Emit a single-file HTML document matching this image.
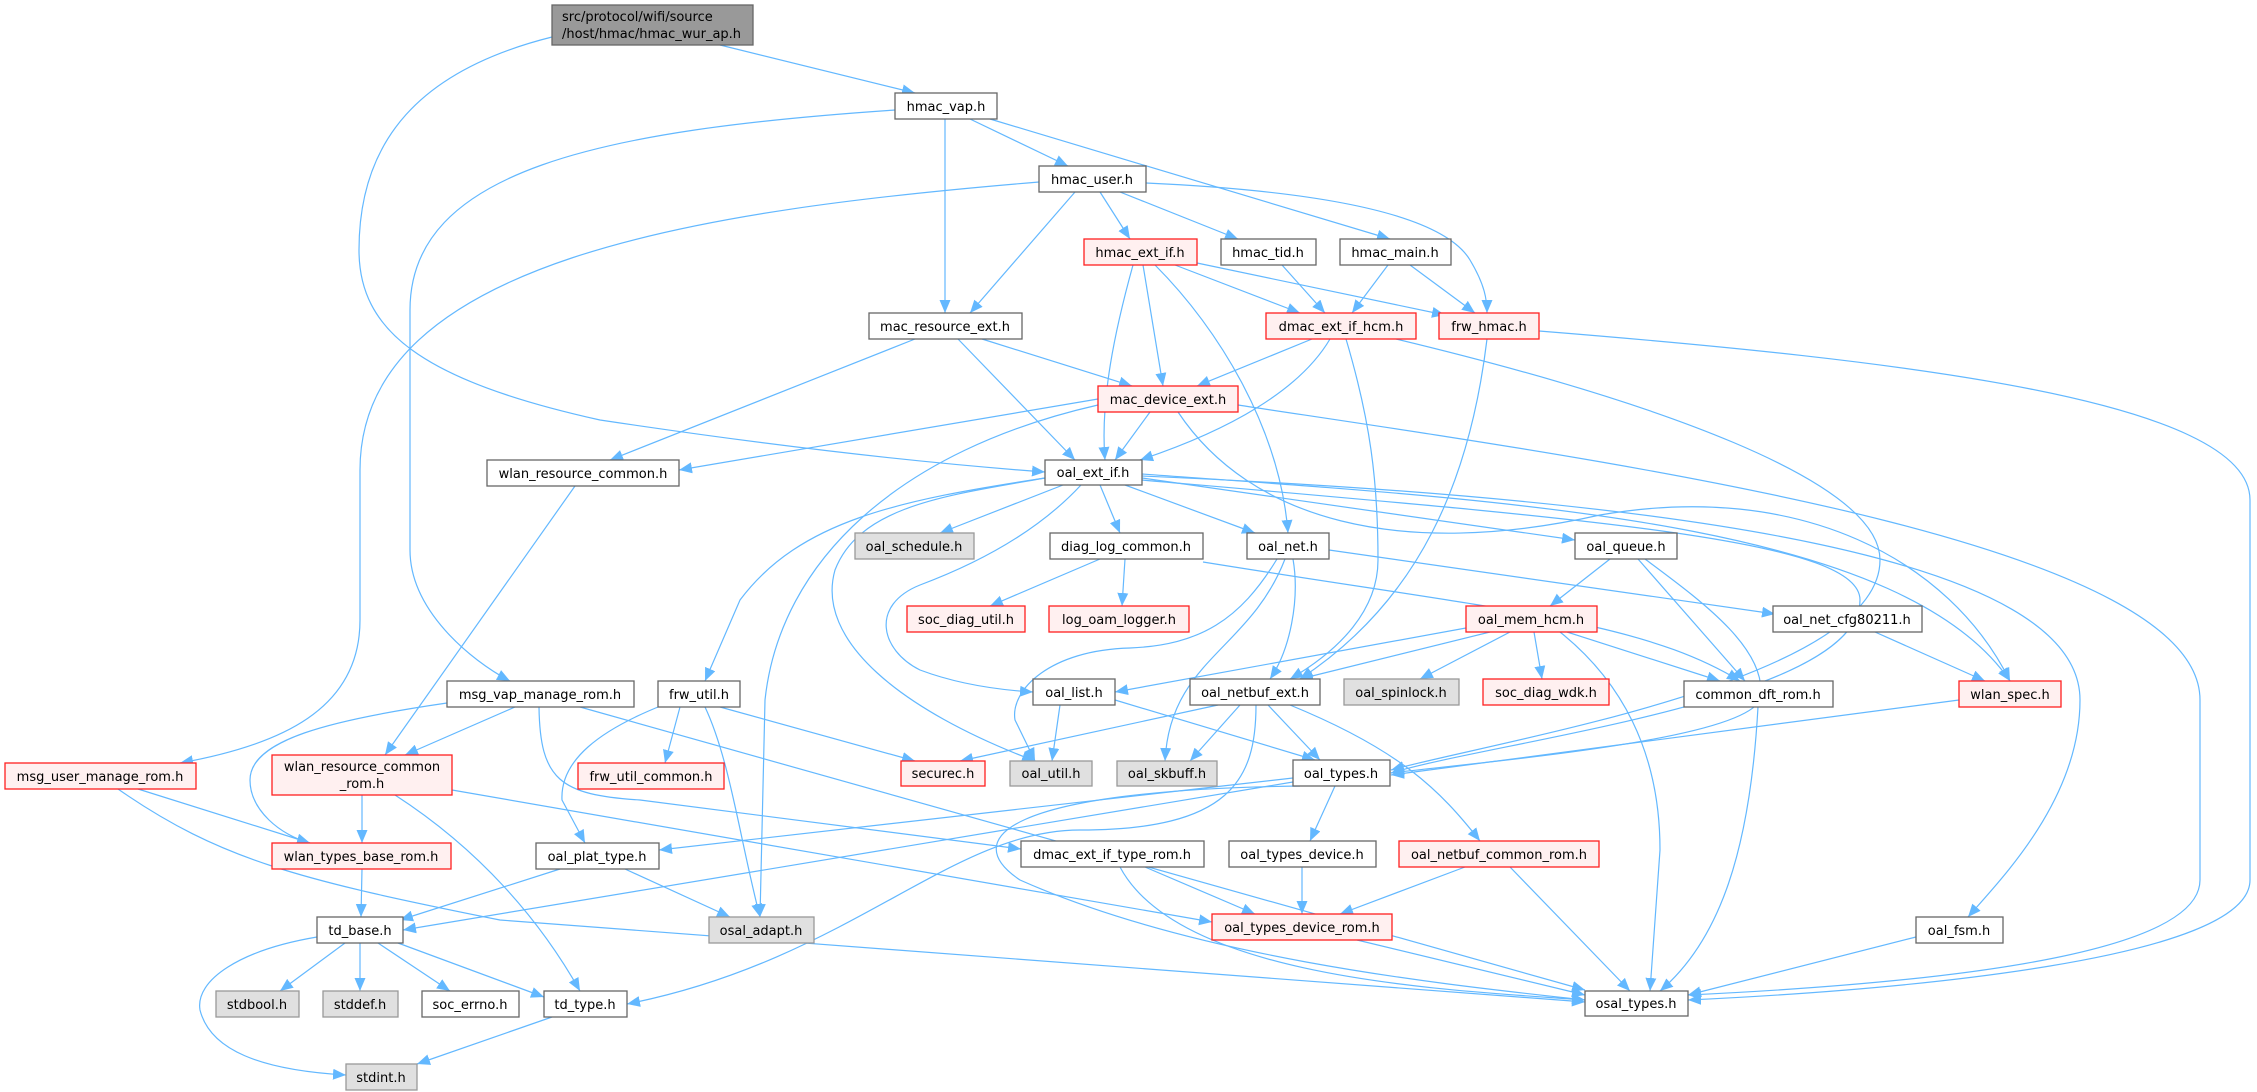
<!DOCTYPE html>
<html><head><meta charset="utf-8"><style>
html,body{margin:0;padding:0;background:#fff;}
svg{display:block;}
text{font-family:"DejaVu Sans","Liberation Sans",sans-serif;font-size:13px;fill:#000;}
.e{fill:none;stroke:#63b8ff;stroke-width:1.2;marker-end:url(#a);}
.n{fill:#fff;stroke:#666;stroke-width:1.3;}
.r{fill:#fff0f0;stroke:#ff2020;stroke-width:1.3;}
.g{fill:#e0e0e0;stroke:#999;stroke-width:1.3;}
</style></head><body>
<svg width="2257" height="1092" viewBox="0 0 2257 1092" xmlns="http://www.w3.org/2000/svg">
<defs><marker id="a" markerUnits="userSpaceOnUse" markerWidth="14" markerHeight="12" refX="13" refY="5.5" orient="auto"><path d="M0,0 L13,5.5 L0,11 z" fill="#63b8ff"/></marker></defs>
<g>
<path class="e" d="M720,45 L915,93"/>
<path class="e" d="M552,37 C420,70 359,140 359,250 C359,330 420,380 600,420 C800,450 950,465 1045,472"/>
<path class="e" d="M895,110 C600,130 410,170 410,310 L410,550 C410,610 470,660 510,681"/>
<path class="e" d="M945,119 L945,313"/>
<path class="e" d="M970,119 L1068,166"/>
<path class="e" d="M990,119 L1390,239"/>
<path class="e" d="M1039,182 C700,210 360,260 360,470 L360,620 C360,710 280,745 180,763"/>
<path class="e" d="M1075,192 L970,313"/>
<path class="e" d="M1100,192 L1130,239"/>
<path class="e" d="M1120,192 L1238,239"/>
<path class="e" d="M1146,183 C1300,190 1440,210 1470,260 C1485,285 1487,300 1487,313"/>
<path class="e" d="M1133,265 C1115,330 1100,400 1105,460"/>
<path class="e" d="M1143,265 L1163,386"/>
<path class="e" d="M1175,265 L1300,313"/>
<path class="e" d="M1197,263 L1445,315"/>
<path class="e" d="M1155,265 C1220,330 1280,430 1288,533"/>
<path class="e" d="M1282,265 L1325,313"/>
<path class="e" d="M1388,265 L1352,313"/>
<path class="e" d="M1410,265 L1475,313"/>
<path class="e" d="M915,339 L610,460"/>
<path class="e" d="M958,339 L1075,460"/>
<path class="e" d="M982,339 L1132,386"/>
<path class="e" d="M1312,339 L1197,386"/>
<path class="e" d="M1330,339 C1300,390 1230,430 1140,460"/>
<path class="e" d="M1346,339 C1370,420 1378,480 1378,560 C1378,610 1340,650 1290,679"/>
<path class="e" d="M1396,339 C1650,400 1880,480 1880,560 C1880,680 1500,740 1391,770"/>
<path class="e" d="M1487,339 C1470,480 1420,600 1300,679"/>
<path class="e" d="M1539,331 C1900,360 2250,400 2250,500 L2250,880 C2250,960 1900,990 1688,1000"/>
<path class="e" d="M1098,399 L679,470"/>
<path class="e" d="M1150,412 L1115,460"/>
<path class="e" d="M1098,405 C900,450 780,560 765,700 L760,917"/>
<path class="e" d="M1178,412 C1250,520 1400,560 1600,515 C1800,480 1950,560 2010,681"/>
<path class="e" d="M1238,405 C1600,460 2200,540 2200,700 L2200,880 C2200,960 1900,985 1688,995"/>
<path class="e" d="M1063,485 L940,533"/>
<path class="e" d="M1100,485 L1120,533"/>
<path class="e" d="M1125,485 L1255,533"/>
<path class="e" d="M1142,478 L1575,540"/>
<path class="e" d="M1045,478 C900,500 800,520 740,600 L705,681"/>
<path class="e" d="M1081,485 C1030,540 960,570 920,585 C870,605 880,650 920,670 C960,685 1000,690 1033,692"/>
<path class="e" d="M1045,478 C950,495 860,505 835,570 C815,640 900,710 1035,761"/>
<path class="e" d="M1142,474 C1500,500 1900,520 2010,681"/>
<path class="e" d="M1142,480 C1600,520 1860,540 1860,600 C1860,700 1500,740 1391,773"/>
<path class="e" d="M1142,476 C1700,500 2080,560 2080,700 C2080,800 2000,880 1968,917"/>
<path class="e" d="M1100,559 L990,606"/>
<path class="e" d="M1125,559 L1122,606"/>
<path class="e" d="M1203,562 C1500,610 1640,620 1740,681"/>
<path class="e" d="M1277,559 C1240,620 1200,645 1130,648 C1050,650 1010,690 1015,720 L1035,761"/>
<path class="e" d="M1285,559 C1250,650 1170,660 1165,761"/>
<path class="e" d="M1293,559 C1300,600 1290,650 1270,679"/>
<path class="e" d="M1329,550 L1775,614"/>
<path class="e" d="M1610,559 L1550,606"/>
<path class="e" d="M1638,559 L1745,681"/>
<path class="e" d="M1645,559 C1700,600 1770,650 1760,700 C1740,740 1500,760 1391,773"/>
<path class="e" d="M1466,628 L1115,692"/>
<path class="e" d="M1490,632 L1300,679"/>
<path class="e" d="M1510,632 L1420,679"/>
<path class="e" d="M1534,632 L1542,679"/>
<path class="e" d="M1567,632 L1720,681"/>
<path class="e" d="M1560,632 C1620,680 1660,750 1660,850 L1650,991"/>
<path class="e" d="M1875,632 L1985,681"/>
<path class="e" d="M1959,700 L1391,775"/>
<path class="e" d="M1758,707 C1750,850 1720,940 1660,991"/>
<path class="e" d="M720,707 L915,761"/>
<path class="e" d="M680,707 L665,763"/>
<path class="e" d="M705,707 C730,760 740,840 760,917"/>
<path class="e" d="M663,705 C600,730 560,760 562,800 L585,843"/>
<path class="e" d="M1060,705 L1052,761"/>
<path class="e" d="M1115,700 L1315,760"/>
<path class="e" d="M1218,705 L960,761"/>
<path class="e" d="M1240,705 L1190,761"/>
<path class="e" d="M1268,705 L1320,760"/>
<path class="e" d="M1290,705 C1400,750 1440,790 1480,841"/>
<path class="e" d="M1256,705 C1256,780 1230,830 1080,830 C950,830 850,960 627,1004"/>
<path class="e" d="M1300,786 C1000,790 960,840 1020,880 C1200,960 1450,985 1585,1000"/>
<path class="e" d="M1293,778 L659,850"/>
<path class="e" d="M1293,782 L403,930"/>
<path class="e" d="M1335,786 L1310,841"/>
<path class="e" d="M1302,867 L1302,914"/>
<path class="e" d="M1465,867 L1340,914"/>
<path class="e" d="M1510,867 L1630,991"/>
<path class="e" d="M1145,867 L1255,914"/>
<path class="e" d="M1120,867 C1180,980 1450,990 1585,1000"/>
<path class="e" d="M1357,940 L1585,995"/>
<path class="e" d="M1916,937 L1688,995"/>
<path class="e" d="M515,707 L405,755"/>
<path class="e" d="M447,703 C330,720 250,740 250,780 C250,810 280,835 310,843"/>
<path class="e" d="M539,707 C540,780 560,795 640,800 L1021,849"/>
<path class="e" d="M580,707 L1585,990"/>
<path class="e" d="M575,486 L385,755"/>
<path class="e" d="M138,789 L310,843"/>
<path class="e" d="M118,789 C220,860 300,880 500,920 L1585,1002"/>
<path class="e" d="M362,795 L362,843"/>
<path class="e" d="M395,795 C480,850 540,920 580,991"/>
<path class="e" d="M452,790 L1212,922"/>
<path class="e" d="M362,869 L361,917"/>
<path class="e" d="M560,869 L400,920"/>
<path class="e" d="M625,869 L730,917"/>
<path class="e" d="M345,943 L280,991"/>
<path class="e" d="M360,943 L360,991"/>
<path class="e" d="M378,943 L450,991"/>
<path class="e" d="M398,943 L544,997"/>
<path class="e" d="M317,937 C240,950 195,980 200,1010 C210,1050 260,1070 346,1075"/>
<path class="e" d="M552,1017 L417,1064"/>
</g>
<g>
<rect x="552" y="5" width="201" height="40" fill="#999" stroke="#666" stroke-width="1.3"/>
<text x="562" y="21">src/protocol/wifi/source</text>
<text x="562" y="38">/host/hmac/hmac_wur_ap.h</text>

<rect class="n" x="895" y="93" width="102" height="26"/><text x="946" y="111" text-anchor="middle">hmac_vap.h</text>
<rect class="n" x="1039" y="166" width="107" height="26"/><text x="1092" y="184" text-anchor="middle">hmac_user.h</text>
<rect class="r" x="1084" y="239" width="113" height="26"/><text x="1140" y="257" text-anchor="middle">hmac_ext_if.h</text>
<rect class="n" x="1221" y="239" width="95" height="26"/><text x="1268" y="257" text-anchor="middle">hmac_tid.h</text>
<rect class="n" x="1340" y="239" width="111" height="26"/><text x="1395" y="257" text-anchor="middle">hmac_main.h</text>
<rect class="n" x="869" y="313" width="153" height="26"/><text x="945" y="331" text-anchor="middle">mac_resource_ext.h</text>
<rect class="r" x="1266" y="313" width="150" height="26"/><text x="1341" y="331" text-anchor="middle">dmac_ext_if_hcm.h</text>
<rect class="r" x="1439" y="313" width="100" height="26"/><text x="1489" y="331" text-anchor="middle">frw_hmac.h</text>
<rect class="r" x="1098" y="386" width="140" height="26"/><text x="1168" y="404" text-anchor="middle">mac_device_ext.h</text>
<rect class="n" x="487" y="460" width="192" height="26"/><text x="583" y="478" text-anchor="middle">wlan_resource_common.h</text>
<rect class="n" x="1045" y="460" width="97" height="25"/><text x="1093" y="477" text-anchor="middle">oal_ext_if.h</text>
<rect class="g" x="855" y="533" width="119" height="26"/><text x="914" y="551" text-anchor="middle">oal_schedule.h</text>
<rect class="n" x="1050" y="533" width="153" height="26"/><text x="1126" y="551" text-anchor="middle">diag_log_common.h</text>
<rect class="n" x="1247" y="533" width="82" height="26"/><text x="1288" y="551" text-anchor="middle">oal_net.h</text>
<rect class="n" x="1575" y="533" width="102" height="26"/><text x="1626" y="551" text-anchor="middle">oal_queue.h</text>
<rect class="r" x="907" y="606" width="118" height="26"/><text x="966" y="624" text-anchor="middle">soc_diag_util.h</text>
<rect class="r" x="1049" y="606" width="140" height="26"/><text x="1119" y="624" text-anchor="middle">log_oam_logger.h</text>
<rect class="r" x="1466" y="606" width="131" height="26"/><text x="1531" y="624" text-anchor="middle">oal_mem_hcm.h</text>
<rect class="n" x="1773" y="606" width="149" height="26"/><text x="1847" y="624" text-anchor="middle">oal_net_cfg80211.h</text>
<rect class="n" x="447" y="681" width="187" height="26"/><text x="540" y="699" text-anchor="middle">msg_vap_manage_rom.h</text>
<rect class="n" x="658" y="681" width="82" height="26"/><text x="699" y="699" text-anchor="middle">frw_util.h</text>
<rect class="n" x="1033" y="679" width="82" height="26"/><text x="1074" y="697" text-anchor="middle">oal_list.h</text>
<rect class="n" x="1190" y="679" width="130" height="26"/><text x="1255" y="697" text-anchor="middle">oal_netbuf_ext.h</text>
<rect class="g" x="1344" y="679" width="115" height="26"/><text x="1401" y="697" text-anchor="middle">oal_spinlock.h</text>
<rect class="r" x="1483" y="679" width="126" height="26"/><text x="1546" y="697" text-anchor="middle">soc_diag_wdk.h</text>
<rect class="n" x="1684" y="681" width="149" height="26"/><text x="1758" y="699" text-anchor="middle">common_dft_rom.h</text>
<rect class="r" x="1959" y="681" width="102" height="26"/><text x="2010" y="699" text-anchor="middle">wlan_spec.h</text>
<rect class="r" x="5" y="763" width="191" height="26"/><text x="100" y="781" text-anchor="middle">msg_user_manage_rom.h</text>
<rect class="r" x="272" y="755" width="180" height="40"/><text x="362" y="771" text-anchor="middle">wlan_resource_common</text><text x="362" y="788" text-anchor="middle">_rom.h</text>
<rect class="r" x="578" y="763" width="146" height="26"/><text x="651" y="781" text-anchor="middle">frw_util_common.h</text>
<rect class="r" x="901" y="761" width="84" height="25"/><text x="943" y="778" text-anchor="middle">securec.h</text>
<rect class="g" x="1010" y="761" width="82" height="25"/><text x="1051" y="778" text-anchor="middle">oal_util.h</text>
<rect class="g" x="1117" y="761" width="100" height="25"/><text x="1167" y="778" text-anchor="middle">oal_skbuff.h</text>
<rect class="n" x="1293" y="760" width="97" height="26"/><text x="1341" y="778" text-anchor="middle">oal_types.h</text>
<rect class="r" x="272" y="843" width="179" height="26"/><text x="361" y="861" text-anchor="middle">wlan_types_base_rom.h</text>
<rect class="n" x="536" y="843" width="123" height="26"/><text x="597" y="861" text-anchor="middle">oal_plat_type.h</text>
<rect class="n" x="1021" y="841" width="183" height="26"/><text x="1112" y="859" text-anchor="middle">dmac_ext_if_type_rom.h</text>
<rect class="n" x="1229" y="841" width="147" height="26"/><text x="1302" y="859" text-anchor="middle">oal_types_device.h</text>
<rect class="r" x="1399" y="841" width="200" height="26"/><text x="1499" y="859" text-anchor="middle">oal_netbuf_common_rom.h</text>
<rect class="n" x="317" y="917" width="86" height="26"/><text x="360" y="935" text-anchor="middle">td_base.h</text>
<rect class="g" x="709" y="917" width="105" height="26"/><text x="761" y="935" text-anchor="middle">osal_adapt.h</text>
<rect class="r" x="1212" y="914" width="180" height="26"/><text x="1302" y="932" text-anchor="middle">oal_types_device_rom.h</text>
<rect class="n" x="1916" y="917" width="87" height="26"/><text x="1959" y="935" text-anchor="middle">oal_fsm.h</text>
<rect class="g" x="216" y="991" width="83" height="26"/><text x="257" y="1009" text-anchor="middle">stdbool.h</text>
<rect class="g" x="323" y="991" width="75" height="26"/><text x="360" y="1009" text-anchor="middle">stddef.h</text>
<rect class="n" x="422" y="991" width="97" height="26"/><text x="470" y="1009" text-anchor="middle">soc_errno.h</text>
<rect class="n" x="544" y="991" width="83" height="26"/><text x="585" y="1009" text-anchor="middle">td_type.h</text>
<rect class="n" x="1585" y="991" width="103" height="25"/><text x="1636" y="1008" text-anchor="middle">osal_types.h</text>
<rect class="g" x="346" y="1064" width="71" height="26"/><text x="381" y="1082" text-anchor="middle">stdint.h</text>
</g>
</svg>
</body></html>
